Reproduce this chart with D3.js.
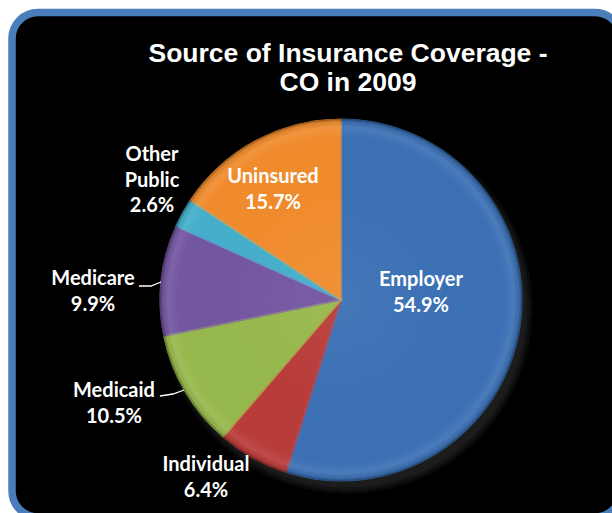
<!DOCTYPE html>
<html>
<head>
<meta charset="utf-8">
<script src="https://cdn.jsdelivr.net/npm/d3@7"></script>
<style>
  html, body { margin: 0; padding: 0; background: #ffffff; }
  svg { display: block; }
</style>
</head>
<body>
<svg id="chart" width="612" height="513"></svg>
<script>
// Source of insurance coverage, Colorado 2009 (percent of population)
const categories = ["Employer", "Individual", "Medicaid", "Medicare", "Other Public", "Uninsured"];
const shares = [54.9, 6.4, 10.5, 9.9, 2.6, 15.7];
const sliceColors = ["#3b70b4", "#b83c39", "#97b84c", "#7356a0", "#45aeca", "#f08b2d"];
const titleLines = ["Source of Insurance Coverage -", "CO in 2009"];

// Label layout: centre x, first baseline, label lines
const labelLayout = [
  { x: 421, y: 286, lines: ["Employer"] },
  { x: 206, y: 471, lines: ["Individual"] },
  { x: 114, y: 397, lines: ["Medicaid"] },
  { x: 93,  y: 285, lines: ["Medicare"] },
  { x: 152, y: 161, lines: ["Other", "Public"] },
  { x: 273, y: 183, lines: ["Uninsured"] }
];
// Leader lines for the labels sitting outside the pie
const leaders = [
  { name: "Medicare", pts: [[139, 286], [151, 286], [161, 282]] },
  { name: "Medicaid", pts: [[160, 396], [173, 394], [184, 390]] }
];

const cx = 341, cy = 300, R = 181;
const svg = d3.select("#chart");
const defs = svg.append("defs");

// Panel: black rounded box with blue frame
svg.append("rect")
  .attr("x", 12).attr("y", 12.5)
  .attr("width", 609).attr("height", 504.5)
  .attr("rx", 26).attr("ry", 26)
  .attr("fill", "#000")
  .attr("stroke", "#4a7ebb")
  .attr("stroke-width", 7.5);

// Title
const title = svg.append("text")
  .attr("text-anchor", "middle")
  .attr("font-family", "'Liberation Sans', Arial, sans-serif")
  .attr("font-weight", "bold")
  .attr("font-size", 26.5)
  .attr("fill", "#fff");
titleLines.forEach((t, i) => {
  title.append("tspan").attr("x", 348).attr("y", 62 + i * 29).text(t);
});

// Soft shadow filter & rim shading (gradient in the pie group's own space)
const blur = defs.append("filter").attr("id", "shadowBlur")
  .attr("x", "-20%").attr("y", "-20%").attr("width", "140%").attr("height", "140%");
blur.append("feGaussianBlur").attr("stdDeviation", 3);

const rim = defs.append("radialGradient").attr("id", "rim")
  .attr("gradientUnits", "userSpaceOnUse")
  .attr("cx", 0).attr("cy", 0).attr("r", R);
[[0, "#ffffff", 0.05], [0.6, "#ffffff", 0.0], [0.9, "#ffffff", 0.0], [0.955, "#ffffff", 0.08], [0.985, "#000000", 0.12], [1, "#000000", 0.3]]
  .forEach(([o, c, a]) => rim.append("stop").attr("offset", o).attr("stop-color", c).attr("stop-opacity", a));

const pie = d3.pie().sort(null).value(d => d.value);
const data = categories.map((c, i) => ({ name: c, value: shares[i], color: sliceColors[i] }));
const arcs = pie(data);
const arc = d3.arc().innerRadius(0).outerRadius(R);

const g = svg.append("g").attr("transform", `translate(${cx},${cy})`);

// shadow under the pie
g.append("circle")
  .attr("cx", 6).attr("cy", 8).attr("r", R + 2)
  .attr("fill", "#1a1a1a")
  .attr("filter", "url(#shadowBlur)");

g.selectAll("path.slice")
  .data(arcs)
  .join("path")
  .attr("class", "slice")
  .attr("d", arc)
  .attr("fill", d => d.data.color)
  .attr("stroke", d => d3.color(d.data.color).darker(0.6))
  .attr("stroke-width", 1);

// bevel highlight along slice edges
g.selectAll("path.bevel")
  .data(arcs)
  .join("path")
  .attr("class", "bevel")
  .attr("d", d3.arc().innerRadius(0).outerRadius(R - 3))
  .attr("fill", "none")
  .attr("stroke", d => d3.color(d.data.color).brighter(0.4))
  .attr("stroke-opacity", 0.45)
  .attr("stroke-width", 2);

g.append("circle").attr("r", R).attr("fill", "url(#rim)");

// Leader lines
svg.selectAll("path.leader")
  .data(leaders)
  .join("path")
  .attr("class", "leader")
  .attr("d", d => d3.line()(d.pts))
  .attr("fill", "none")
  .attr("stroke", "#fff")
  .attr("stroke-width", 1.3);

// Labels: name lines + percentage
const labels = svg.selectAll("text.lbl")
  .data(arcs)
  .join("text")
  .attr("class", "lbl")
  .attr("text-anchor", "middle")
  .attr("font-family", "Lato, 'Open Sans', sans-serif")
  .attr("font-weight", "bold")
  .attr("font-size", 20)
  .attr("fill", "#fff");
labels.each(function (d, i) {
  const L = labelLayout[i];
  const t = d3.select(this);
  const lines = L.lines.concat([d3.format(".1f")(d.data.value) + "%"]);
  lines.forEach((s, k) => {
    t.append("tspan").attr("x", L.x).attr("y", L.y + k * 25.5).text(s);
  });
});
</script>
</body>
</html>
